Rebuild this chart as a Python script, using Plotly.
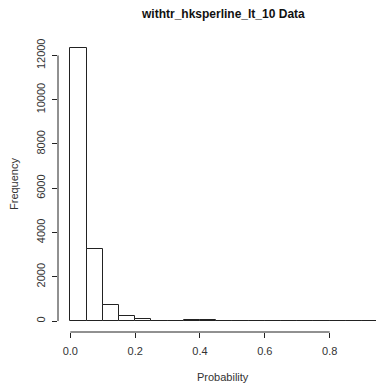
import plotly.graph_objects as go

# Histogram data (bin edges width 0.05)
bin_starts = [0.00, 0.05, 0.10, 0.15, 0.20, 0.25, 0.30, 0.35, 0.40, 0.45,
              0.50, 0.55, 0.60, 0.65, 0.70, 0.75, 0.80, 0.85, 0.90]
counts = [12340, 3240, 710, 240, 110, 25, 25, 70, 70, 0,
          0, 0, 0, 0, 0, 0, 0, 0, 0]
bin_width = 0.05

x_tickvals = [0.0, 0.2, 0.4, 0.6, 0.8]
x_ticktext = ["0.0", "0.2", "0.4", "0.6", "0.8"]
y_tickvals = [0, 2000, 4000, 6000, 8000, 10000, 12000]
y_ticktext = ["0", "2000", "4000", "6000", "8000", "10000", "12000"]

title = "withtr_hksperline_lt_10 Data"
x_label = "Probability"
y_label = "Frequency"

FONT = "Liberation Sans, Arial, sans-serif"

centers = [s + bin_width / 2 for s in bin_starts]

fig = go.Figure()
fig.add_trace(go.Bar(
    x=centers, y=counts, width=[bin_width] * len(centers),
    marker=dict(color="white", line=dict(color="#222222", width=1)),
    hoverinfo="skip",
))

ymax = max(counts)
xmin = min(bin_starts)
xmax = max(bin_starts) + bin_width

L, R, T, B = 58, 0, 37, 55
W, H = 376, 387
plot_w = W - L - R
plot_h = H - T - B

def px_x(px):
    return (px - L) / plot_w

def px_y(py):
    return (H - B - py) / plot_h

fig.update_layout(
    width=W, height=H,
    margin=dict(l=L, r=R, t=T, b=B, autoexpand=False),
    paper_bgcolor="white", plot_bgcolor="white",
    showlegend=False,
    bargap=0,
    font=dict(family=FONT, color="#222222", size=11),
    xaxis=dict(
        range=[xmin - 0.04 * (xmax - xmin), 0.943],
        tickvals=x_tickvals, ticktext=x_ticktext,
        ticks="outside", ticklen=5, tickcolor="#222222", tickwidth=1,
        showgrid=False, zeroline=False, showline=False, automargin=False,
        tickfont=dict(size=11, color="#333333"),
        ticklabelstandoff=4,
    ),
    yaxis=dict(
        range=[-0.04 * ymax, 1.04 * ymax],
        tickvals=y_tickvals, ticktext=y_ticktext,
        ticks="outside", ticklen=5, tickcolor="#222222", tickwidth=1,
        showgrid=False, zeroline=False, showline=False, automargin=False,
        tickangle=-90,
        tickfont=dict(size=11, color="#333333"),
        ticklabelstandoff=3,
    ),
    annotations=[
        dict(text="<b>" + title + "</b>", x=px_x(223), y=px_y(14),
             xref="paper", yref="paper", xanchor="center", yanchor="middle",
             showarrow=False, font=dict(size=12, color="#111111")),
        dict(text=x_label, x=px_x(223), y=px_y(377),
             xref="paper", yref="paper", xanchor="center", yanchor="middle",
             showarrow=False, font=dict(size=11, color="#333333")),
        dict(text=y_label, x=px_x(14), y=px_y(184),
             xref="paper", yref="paper", xanchor="center", yanchor="middle",
             showarrow=False, textangle=-90, font=dict(size=11, color="#333333")),
    ],
)

# R-style detached axis lines spanning first to last tick
fig.add_shape(type="line", xref="x", yref="paper",
              x0=x_tickvals[0], x1=x_tickvals[-1], y0=0, y1=0,
              line=dict(color="#222222", width=1))
fig.add_shape(type="line", xref="paper", yref="y",
              x0=0, x1=0, y0=y_tickvals[0], y1=y_tickvals[-1],
              line=dict(color="#222222", width=1))

fig.write_html(
    "out.html",
    config={"displayModeBar": False},
    post_script="document.body.style.margin='0';document.documentElement.style.margin='0';",
)
